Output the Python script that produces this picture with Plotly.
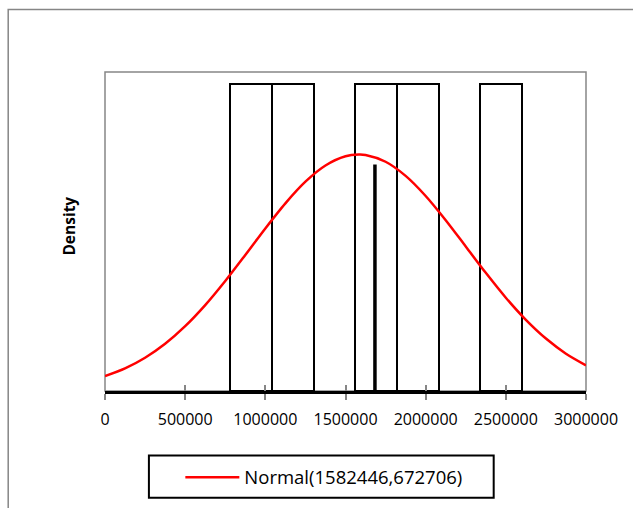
import plotly.graph_objects as go

# Histogram bins (left/right edges) and density heights
bin_left = [781000, 1041000, 1561000, 1821000, 2341000]
bin_right = [1041000, 1301000, 1821000, 2081000, 2601000]
bin_density = [7.70e-7, 7.70e-7, 7.70e-7, 7.70e-7, 7.70e-7]

# Thick vertical marker
marker_x = [1683600, 1683600]
marker_y = [0, 5.68e-7]

# Normal curve
curve_x = [0, 125000, 250000, 375000, 500000, 625000, 750000, 875000, 1000000,
           1125000, 1250000, 1375000, 1500000, 1582446, 1625000, 1750000, 1875000,
           2000000, 2125000, 2250000, 2375000, 2500000, 2625000, 2750000, 2875000, 3000000]
curve_y = [0.373e-7, 0.567e-7, 0.834e-7, 1.184e-7, 1.625e-7, 2.154e-7, 2.758e-7, 3.411e-7,
           4.077e-7, 4.706e-7, 5.249e-7, 5.655e-7, 5.886e-7, 5.930e-7, 5.919e-7, 5.749e-7,
           5.395e-7, 4.891e-7, 4.284e-7, 3.625e-7, 2.963e-7, 2.339e-7, 1.785e-7, 1.315e-7,
           0.936e-7, 0.644e-7]

x_ticks = [0, 500000, 1000000, 1500000, 2000000, 2500000, 3000000]
x_tick_text = ["0", "500000", "1000000", "1500000", "2000000", "2500000", "3000000"]
legend_label = "Normal(1582446,672706)"

W, H = 633, 508
L, R, T, B = 104.5, 46.5, 71.5, 115.5
pw, ph = W - L - R, H - T - B

def px_x(p):
    return (p - L) / pw

def px_y(p):
    return (H - B - p) / ph

fig = go.Figure()
fig.add_trace(go.Bar(
    x=[(a + b) / 2 for a, b in zip(bin_left, bin_right)],
    y=bin_density,
    width=[b - a for a, b in zip(bin_left, bin_right)],
    marker=dict(color="white", line=dict(color="black", width=2)),
    showlegend=False, hoverinfo="skip",
))
fig.add_trace(go.Scatter(
    x=marker_x, y=marker_y, mode="lines",
    line=dict(color="black", width=3.5), showlegend=False, hoverinfo="skip",
))
fig.add_trace(go.Scatter(
    x=curve_x, y=curve_y, mode="lines", name=legend_label,
    line=dict(color="#FF0000", width=2.5, shape="spline", smoothing=0.8),
))
# invisible trace to drive the inner half of crossing ticks
fig.add_trace(go.Scatter(x=[0], y=[0], xaxis="x2", mode="markers",
                         marker=dict(opacity=0), showlegend=False, hoverinfo="skip"))

font = "Open Sans, Noto Sans, sans-serif"
fig.update_layout(
    width=W, height=H,
    margin=dict(l=L, r=R, t=T, b=B, pad=0),
    paper_bgcolor="white", plot_bgcolor="white",
    font=dict(family=font, size=16, color="black"),
    bargap=0,
    xaxis=dict(range=[0, 3000000], tickvals=x_ticks, ticktext=x_tick_text,
               showgrid=False, zeroline=False, showline=True, linecolor="black",
               linewidth=2.5, ticks="outside", ticklen=6, tickwidth=1.5,
               tickcolor="#868686", ticklabelstandoff=6,
               tickfont=dict(family=font, size=16, color="black")),
    xaxis2=dict(range=[0, 3000000], overlaying="x", tickvals=x_ticks,
                showticklabels=False, showgrid=False, zeroline=False,
                showline=False, ticks="inside", ticklen=6, tickwidth=1.5,
                tickcolor="#868686", side="bottom"),
    yaxis=dict(range=[0, 8e-7], showgrid=False, zeroline=False, showline=False,
               showticklabels=False, ticks=""),
    showlegend=True,
    legend=dict(x=px_x(180), y=px_y(478.5), xanchor="left", yanchor="middle",
                bgcolor="rgba(0,0,0,0)", borderwidth=0, itemwidth=54,
                font=dict(family=font, size=18.5, color="black")),
    shapes=[
        # outer chart border (cropped by the picture)
        dict(type="rect", xref="paper", yref="paper", x0=px_x(7.5), x1=px_x(700),
             y0=px_y(560), y1=px_y(8.5), line=dict(color="#868686", width=1.5),
             layer="below"),
        # plot area border
        dict(type="rect", xref="paper", yref="paper", x0=0, x1=1, y0=0, y1=1,
             line=dict(color="#868686", width=1.5), layer="below"),
        # legend box
        dict(type="rect", xref="paper", yref="paper", x0=px_x(148.5), x1=px_x(494),
             y0=px_y(500), y1=px_y(457.5), line=dict(color="black", width=2),
             fillcolor="white", layer="below"),
    ],
    annotations=[
        dict(text="<b>Density</b>", xref="paper", yref="paper", x=px_x(68), y=px_y(226.5),
             xanchor="center", yanchor="middle", textangle=-90, showarrow=False,
             font=dict(family=font, size=15.5, color="black")),
    ],
)
fig.write_html("out.html", config={"displayModeBar": False},
               post_script="document.body.style.margin='0px';")
